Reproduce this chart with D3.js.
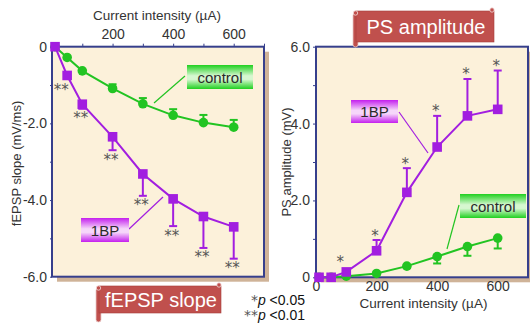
<!DOCTYPE html>
<html>
<head>
<meta charset="utf-8">
<script src="https://cdn.jsdelivr.net/npm/d3@7"></script>
<style>
  html, body { margin: 0; padding: 0; background: #ffffff; }
  svg { display: block; font-family: "Liberation Sans", Arial, sans-serif; }
</style>
</head>
<body>
<svg id="chart" width="530" height="327"></svg>
<script>
// Stimulus intensities (µA)
const currents = [10, 50, 100, 200, 300, 400, 500, 600];

// fEPSP slope (mV/ms), mean and SEM
const slopeControl    = [0, -0.28, -0.63, -1.09, -1.49, -1.79, -1.98, -2.10];
const slopeControlErr = [0, 0, 0, 0.11, 0.15, 0.16, 0.20, 0.19];
const slope1BP        = [0, -0.75, -1.50, -2.35, -3.32, -3.97, -4.43, -4.70];
const slope1BPErr     = [0, 0, 0.12, 0.35, 0.57, 0.71, 0.82, 0.83];
const slopeSig        = ["", "**", "**", "**", "**", "**", "**", "**"];

// PS amplitude (mV), mean and SEM
const psControl    = [0, 0, 0.03, 0.10, 0.29, 0.54, 0.80, 1.02];
const psControlErr = [0, 0, 0, 0, 0.05, 0.18, 0.24, 0.27];
const ps1BP        = [0, 0, 0.14, 0.69, 2.21, 3.39, 4.20, 4.37];
const ps1BPErr     = [0, 0, 0, 0.28, 0.63, 0.81, 0.96, 1.01];
const psSig        = ["", "", "*", "*", "*", "*", "*", "*"];

// Axis ticks
const xTicks = [100, 200, 300, 400, 500, 600, 700];
const xLabelled = [0, 200, 400, 600];
const slopeTicks = [0, -1, -2, -3, -4, -5, -6];
const psTicks = [0, 1, 2, 3, 4, 5, 6];

const GREEN = "#22c422";
const PURPLE = "#a21ee0";
const BORDER = "#363f8c";
const PAPER = "#fcf1da";
const SHADOW = "#cfb398";
const STAR = "#555555";

const svg = d3.select("#chart");
const defs = svg.append("defs");

function bandGradient(id, edge, mid) {
  const g = defs.append("linearGradient").attr("id", id)
    .attr("x1", 0).attr("y1", 0).attr("x2", 0).attr("y2", 1);
  g.append("stop").attr("offset", "0%").attr("stop-color", edge);
  g.append("stop").attr("offset", "45%").attr("stop-color", mid);
  g.append("stop").attr("offset", "60%").attr("stop-color", mid);
  g.append("stop").attr("offset", "100%").attr("stop-color", edge);
}
bandGradient("gGreen", "#1fd01f", "#d6f7d0");
bandGradient("gPurple", "#c41fee", "#f6d6fa");

// Panels
const left = {
  x: d3.scaleLinear().domain([0, 700]).range([52, 264]),
  y: d3.scaleLinear().domain([0, -6]).range([46.7, 276.7])
};
const right = {
  x: d3.scaleLinear().domain([0, 700]).range([316, 528]),
  y: d3.scaleLinear().domain([0, 6]).range([277.3, 46.7])
};

function frame(p) {
  const [x0, x1] = p.x.range();
  const ys = p.y.range();
  const y0 = Math.min(...ys), y1 = Math.max(...ys);
  svg.append("rect").attr("x", x0 + 5).attr("y", y0 + 5)
    .attr("width", x1 - x0).attr("height", y1 - y0).attr("fill", SHADOW);
  svg.append("rect").attr("x", x0).attr("y", y0)
    .attr("width", x1 - x0).attr("height", y1 - y0).attr("fill", PAPER);
  svg.append("rect").attr("x", x0).attr("y", y0)
    .attr("width", x1 - x0).attr("height", y1 - y0)
    .attr("fill", "none").attr("stroke", BORDER).attr("stroke-width", 2);
}

function styleAxis(g) {
  g.select(".domain").remove();
  g.selectAll(".tick line").attr("stroke", BORDER).attr("stroke-width", 1);
  g.selectAll(".tick text").attr("fill", "#333").attr("font-size", 14)
    .attr("font-family", "'Liberation Sans', Arial, sans-serif");
}

function series(p, xs, ys, errs, dir, color, shape) {
  const g = svg.append("g");
  const pts = xs.map((x, i) => ({ x, y: ys[i], e: errs[i] }));
  // error bars
  pts.filter(d => d.e > 0).forEach(d => {
    const yEnd = p.y(d.y + dir * d.e);
    g.append("line").attr("x1", p.x(d.x)).attr("x2", p.x(d.x))
      .attr("y1", p.y(d.y)).attr("y2", yEnd)
      .attr("stroke", color).attr("stroke-width", 2);
    g.append("line").attr("x1", p.x(d.x) - 4).attr("x2", p.x(d.x) + 4)
      .attr("y1", yEnd).attr("y2", yEnd)
      .attr("stroke", color).attr("stroke-width", 2);
  });
  g.append("path").datum(pts)
    .attr("d", d3.line().x(d => p.x(d.x)).y(d => p.y(d.y)))
    .attr("fill", "none").attr("stroke", color).attr("stroke-width", 2);
  if (shape === "circle") {
    g.selectAll("circle").data(pts).join("circle")
      .attr("cx", d => p.x(d.x)).attr("cy", d => p.y(d.y)).attr("r", 4.8)
      .attr("fill", color);
  } else {
    g.selectAll("rect").data(pts).join("rect")
      .attr("x", d => p.x(d.x) - 4.8).attr("y", d => p.y(d.y) - 4.8)
      .attr("width", 9.6).attr("height", 9.6).attr("fill", color);
  }
}

function stars(p, xs, ys, errs, sig, dir) {
  xs.forEach((x, i) => {
    if (!sig[i]) return;
    const tip = errs[i] > 0 ? p.y(ys[i] + dir * errs[i]) : p.y(ys[i]) - dir * 5;
    // centre of the asterisks sits just beyond the bar tip
    const cy = dir < 0 ? tip + 6 : tip - 8;
    svg.append("text").attr("x", p.x(x) - (errs[i] > 0 ? 1.5 : 6)).attr("y", cy + 8.5)
      .attr("text-anchor", "middle").attr("font-size", 15).attr("fill", STAR)
      .attr("font-family", "'DejaVu Sans', sans-serif")
      .text(sig[i]);
  });
}

function tag(x, y, w, h, fill, label, lineTo, color) {
  svg.append("line").attr("x1", lineTo[0]).attr("y1", lineTo[1])
    .attr("x2", lineTo[2]).attr("y2", lineTo[3])
    .attr("stroke", color).attr("stroke-width", 1.2);
  svg.append("rect").attr("x", x).attr("y", y).attr("width", w).attr("height", h)
    .attr("fill", fill);
  svg.append("text").attr("x", x + w / 2).attr("y", y + h / 2 + 5.5)
    .attr("text-anchor", "middle").attr("font-size", 15).attr("fill", "#2a2a2a")
    .text(label);
}

function banner(x, y, w, h, label, stemBottom) {
  const g = svg.append("g");
  const red = "#c0504d", edge = "#a33e3b";
  g.append("rect").attr("x", x - 1).attr("y", y + 2).attr("width", 5)
    .attr("height", stemBottom - y - 2).attr("rx", 2.5)
    .attr("fill", red).attr("stroke", "#e8c9c8").attr("stroke-width", 0.8);
  g.append("rect").attr("x", x + 2).attr("y", y).attr("width", w - 2).attr("height", h)
    .attr("fill", red).attr("stroke", edge).attr("stroke-width", 0.6);
  g.append("circle").attr("cx", x + 1.5).attr("cy", y + 2).attr("r", 2.2)
    .attr("fill", red).attr("stroke", "#f3dddc").attr("stroke-width", 0.8);
  g.append("circle").attr("cx", x + w - 2).attr("cy", y - 1).attr("r", 2.2)
    .attr("fill", red).attr("stroke", "#f3dddc").attr("stroke-width", 0.8);
  g.append("text").attr("x", x + w / 2 + 2).attr("y", y + h / 2 + 7)
    .attr("text-anchor", "middle").attr("font-size", 20).attr("fill", "#ffffff")
    .text(label);
}

// ---- Left panel: fEPSP slope ----
frame(left);
svg.append("g").attr("transform", "translate(0,46.7)")
  .call(d3.axisTop(left.x).tickValues(xTicks).tickSize(3).tickPadding(5)
    .tickFormat(d => [200, 400, 600].includes(d) ? d : ""))
  .call(styleAxis);
svg.append("g").attr("transform", "translate(52,0)")
  .call(d3.axisLeft(left.y).tickValues(slopeTicks).tickSize(2).tickPadding(3)
    .tickFormat(d => d === 0 ? "0" : (d % 2 === 0 ? "-" + Math.abs(d).toFixed(1) : "")))
  .call(styleAxis);
svg.append("text").attr("x", 157).attr("y", 20).attr("text-anchor", "middle")
  .attr("font-size", 13.5).attr("fill", "#333").text("Current intensity (µA)");
svg.append("text").attr("transform", "translate(21,163.5) rotate(-90)")
  .attr("text-anchor", "middle").attr("font-size", 13).attr("fill", "#333")
  .text("fEPSP slope (mV/ms)");

series(left, currents, slopeControl, slopeControlErr, +1, GREEN, "circle");
series(left, currents, slope1BP, slope1BPErr, -1, PURPLE, "square");
stars(left, currents, slope1BP, slope1BPErr, slopeSig, -1);

tag(187, 65, 66, 24, "url(#gGreen)", "control", [185, 76, 154, 103], GREEN);
tag(81, 218, 48, 24, "url(#gPurple)", "1BP", [129, 229, 163, 197], PURPLE);

// ---- Right panel: PS amplitude ----
frame(right);
svg.append("g").attr("transform", "translate(0,278)")
  .call(d3.axisBottom(right.x).tickValues(xLabelled).tickSize(0).tickPadding(3.5))
  .call(styleAxis);
svg.append("g").attr("transform", "translate(315,0)")
  .call(d3.axisLeft(right.y).tickValues(psTicks).tickSize(2).tickPadding(3)
    .tickFormat(d => d === 0 ? "0" : (d % 2 === 0 ? d.toFixed(1) : "")))
  .call(styleAxis);
svg.append("text").attr("x", 423.5).attr("y", 307.5).attr("text-anchor", "middle")
  .attr("font-size", 13.5).attr("fill", "#333").text("Current intensity (µA)");
svg.append("text").attr("transform", "translate(291,162) rotate(-90)")
  .attr("text-anchor", "middle").attr("font-size", 13).attr("fill", "#333")
  .text("PS amplitude (mV)");

series(right, currents, psControl, psControlErr, -1, GREEN, "circle");
series(right, currents, ps1BP, ps1BPErr, +1, PURPLE, "square");
stars(right, currents, ps1BP, ps1BPErr, psSig, +1);

tag(460, 194, 66, 24, "url(#gGreen)", "control", [459, 205, 447, 249], GREEN);
tag(351, 100, 47, 23, "url(#gPurple)", "1BP", [399, 112, 428, 153], PURPLE);

// ---- Banners and significance key ----
banner(97, 286, 124, 27, "fEPSP slope", 322);
banner(354, 11, 140, 31, "PS amplitude", 47);

const key = svg.append("g").attr("font-size", 14);
[["*", 305], ["**", 320]].forEach(([s, y]) => {
  const t = key.append("text").attr("x", 305).attr("y", y).attr("text-anchor", "end")
    .attr("fill", "#111");
  t.append("tspan").attr("fill", STAR).attr("font-family", "'DejaVu Sans', sans-serif").text(s);
  t.append("tspan").attr("font-style", "italic").text("p");
  t.append("tspan").text(" <" + (s === "*" ? "0.05" : "0.01"));
});
</script>
</body>
</html>
